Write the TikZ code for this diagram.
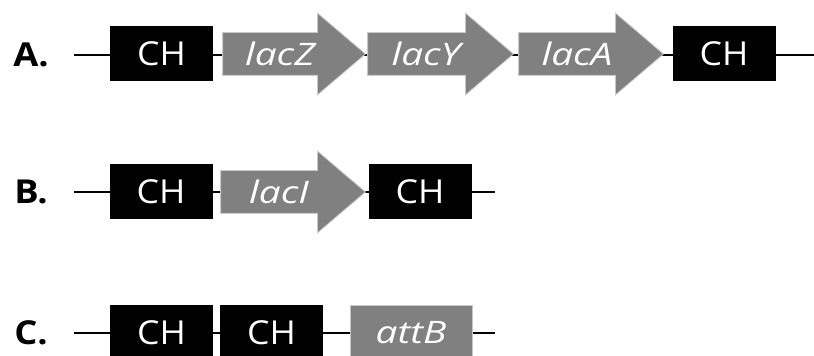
\documentclass[tikz,border=0pt]{standalone}
\usepackage{fontspec}
\setmainfont{Open Sans}
\newfontfamily\boxfont[FakeStretch=1.08]{Open Sans}
\newfontfamily\genefont[FakeStretch=1.25,UprightFont=* Italic]{Open Sans}
\newfontfamily\labfont[FakeStretch=1.1,UprightFont=* Bold]{Open Sans}
\usetikzlibrary{calc,backgrounds}
\definecolor{genegray}{RGB}{128,128,128}
\definecolor{edgegray}{RGB}{200,200,200}
\tikzset{
  chbox/.style={rectangle, fill=black, text=white, minimum width=51.5pt, minimum height=27.5pt, inner sep=0pt, font=\boxfont\fontsize{16.5}{18}\selectfont},
  graybox/.style={rectangle, fill=genegray, draw=edgegray, line width=0.4pt, text=white, minimum height=27.5pt, inner sep=0pt, font=\genefont\fontsize{15.5}{18}\selectfont},
  shaftnode/.style={rectangle, minimum height=21pt, inner sep=0pt},
  genetext/.style={text=white, inner sep=0pt, font=\genefont\fontsize{15.5}{18}\selectfont},
  headfill/.style={fill=genegray, draw=edgegray, line width=0.4pt},
  backbone/.style={line width=1pt, black},
  rowlabel/.style={font=\labfont\fontsize{16.5}{18}\selectfont, inner sep=0pt}
}
\newcommand\drawgenearrow[1]{%
  \filldraw[headfill] (#1.north west) -- (#1.north east) -- ($(#1.north east)+(0,9.75pt)$) -- ($(#1.east)+(24pt,0)$) -- ($(#1.south east)+(0,-9.75pt)$) -- (#1.south east) -- (#1.south west) -- cycle;}
\begin{document}
\begin{tikzpicture}[x=0.5pt,y=-0.5pt]
\useasboundingbox (0,0) rectangle (814,356);
% Row A
\node[rowlabel] (labA) at (31,55) {A.};
\node[chbox] (A1) at (161.5,54) {CH};
\node[shaftnode, minimum width=47pt] (lacZ) at (270,54) {};
\node[shaftnode, minimum width=48.5pt] (lacY) at (416.5,54) {};
\node[shaftnode, minimum width=48pt] (lacA) at (567,54) {};
\node[chbox] (A2) at (724,54) {CH};
\node[genetext] (lacZt) at (280,54) {lacZ};
\node[genetext] (lacYt) at (426,54) {lacY};
\node[genetext] (lacAt) at (577,54) {lacA};
\coordinate (Astart) at (74,55);
\coordinate (Aend) at (814,55);
% Row B
\node[rowlabel] (labB) at (31,192) {B.};
\node[chbox] (B1) at (161,192) {CH};
\node[shaftnode, minimum width=48pt] (lacI) at (269,192) {};
\node[genetext] (lacIt) at (279,192) {lacI};
\node[chbox] (B2) at (420,192) {CH};
\coordinate (Bstart) at (74,192);
\coordinate (Bend) at (495,192);
% Row C
\node[rowlabel] (labC) at (31,333) {C.};
\node[chbox] (C1) at (161.5,333) {CH};
\node[chbox] (C2) at (271.5,333) {CH};
\node[graybox, minimum width=61pt] (attB) at (411,333) {attB};
\coordinate (Cstart) at (74,333);
\coordinate (Cend) at (495,333);
\begin{scope}[on background layer]
  \draw[backbone] (Astart) -- (Aend);
  \draw[backbone] (Bstart) -- (Bend);
  \draw[backbone] (Cstart) -- (Cend);
  \drawgenearrow{lacZ}
  \drawgenearrow{lacY}
  \drawgenearrow{lacA}
  \drawgenearrow{lacI}
\end{scope}
\end{tikzpicture}
\end{document}
